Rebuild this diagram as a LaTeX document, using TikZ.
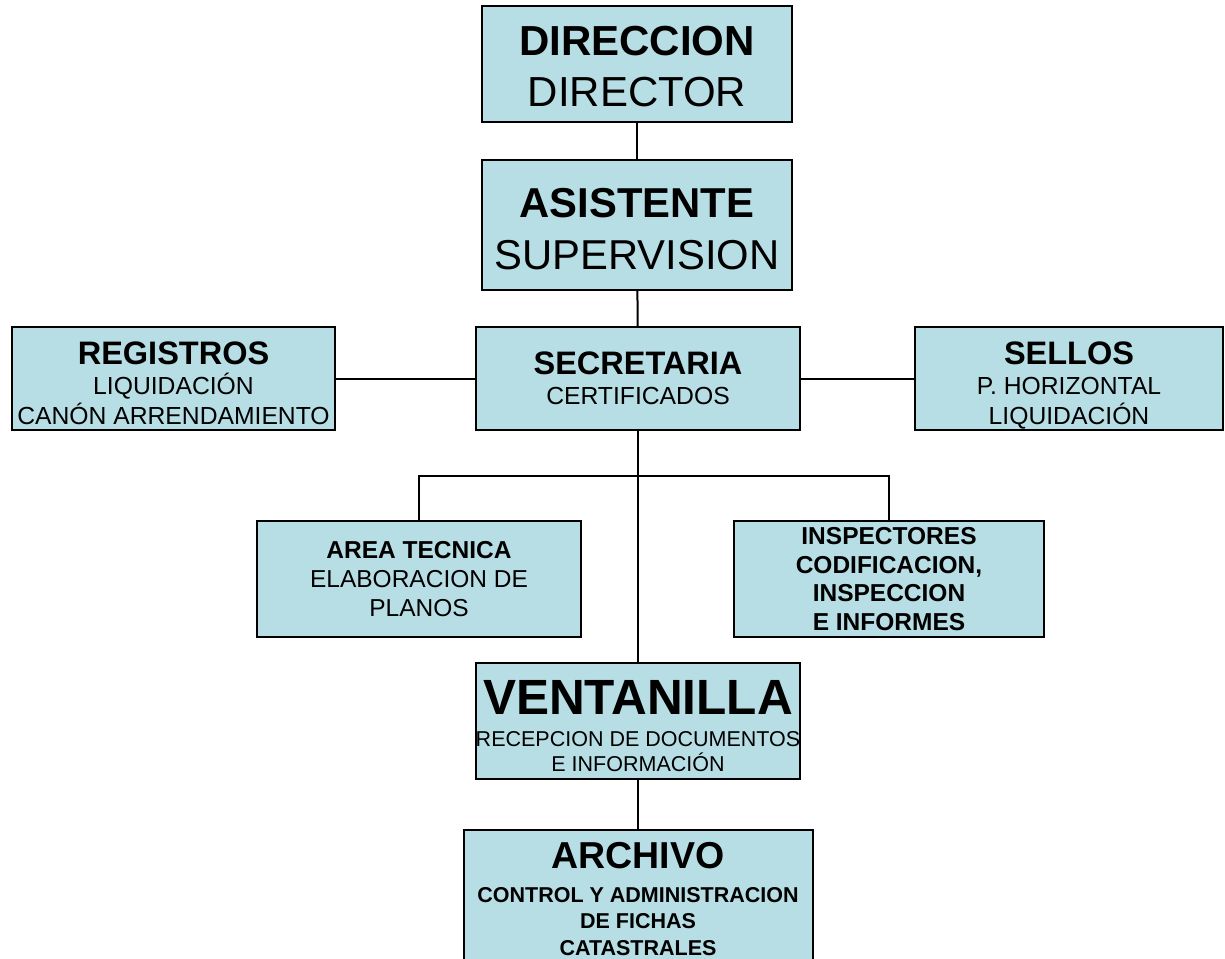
\documentclass[tikz,border=0pt]{standalone}
\usepackage{fontspec}
\setmainfont{Liberation Sans}
\definecolor{boxfill}{RGB}{183,222,228}
\newcommand\tstrut[1]{\rule{0pt}{#1}}
\tikzset{box/.style={draw, fill=boxfill, line width=2pt, align=center, inner sep=0pt, text depth=0pt}}

\begin{document}
\begin{tikzpicture}[x=1pt, y=-1pt, line width=2pt]
			\path[use as bounding box, clip] (0,0) rectangle (1225,958);
			\node[box, minimum width=310, minimum height=116, font=\fontsize{42}{51}\selectfont] (v0) at (637,64)
				{\tstrut{34pt}\textbf{DIRECCION}\\DIRECTOR};
			\node[box, minimum width=310, minimum height=130, font=\fontsize{41.8}{52}\selectfont] (v1) at (637,225)
				{\tstrut{36pt}\textbf{ASISTENTE}\\SUPERVISION};
			\node[box, minimum width=324, minimum height=103, font=\fontsize{24.7}{30}\selectfont] (v2) at (638,378.5)
				{{\fontsize{32.5}{32}\selectfont\bfseries SECRETARIA}\\CERTIFICADOS};
			\node[box, minimum width=323, minimum height=103, font=\fontsize{24.7}{30}\selectfont] (v3) at (173.5,378.5)
				{\tstrut{31pt}{\fontsize{32.5}{32}\selectfont\bfseries REGISTROS}\\LIQUIDACIÓN\\CANÓN ARRENDAMIENTO};
			\node[box, minimum width=308, minimum height=103, font=\fontsize{24.7}{30}\selectfont] (v4) at (1069,378.5)
				{\tstrut{31pt}{\fontsize{32.5}{32}\selectfont\bfseries SELLOS}\\P. HORIZONTAL\\LIQUIDACIÓN};
			\node[box, minimum width=324, minimum height=116, font=\fontsize{24.5}{29}\selectfont] (v5) at (419,579)
				{\textbf{AREA TECNICA}\\ELABORACION DE\\PLANOS};
			\node[box, minimum width=310, minimum height=116, font=\bfseries\fontsize{24.5}{28.5}\selectfont] (v6) at (889,579)
				{INSPECTORES\\CODIFICACION,\\INSPECCION\\E INFORMES};
			\node[box, minimum width=323, minimum height=116, font=\fontsize{21.5}{25.5}\selectfont] (v7) at (638,721)
				{\tstrut{43.5pt}{\fontsize{49.5}{48}\selectfont\bfseries VENTANILLA}\\[6.5pt]RECEPCION DE DOCUMENTOS\\E INFORMACIÓN};
			\node[box, minimum width=349, minimum height=137, font=\bfseries\fontsize{21.5}{26.5}\selectfont] (v8) at (638,898.5)
				{{\fontsize{37.5}{36.5}\selectfont ARCHIVO}\\[7.5pt]CONTROL Y ADMINISTRACION\\DE FICHAS\\CATASTRALES};

			\def\list {v0/v1, v1/v2, v3/v2, v2/v4, v2/v7, v7/v8}  % straight links
			\foreach \u\v in \list
			{	\draw (\u) -- (\v);
			}
			% branch under SECRETARIA
			\coordinate (b) at (638,476);
			\draw (v5.north) |- (b) -| (v6.north);
		\end{tikzpicture}
\end{document}
